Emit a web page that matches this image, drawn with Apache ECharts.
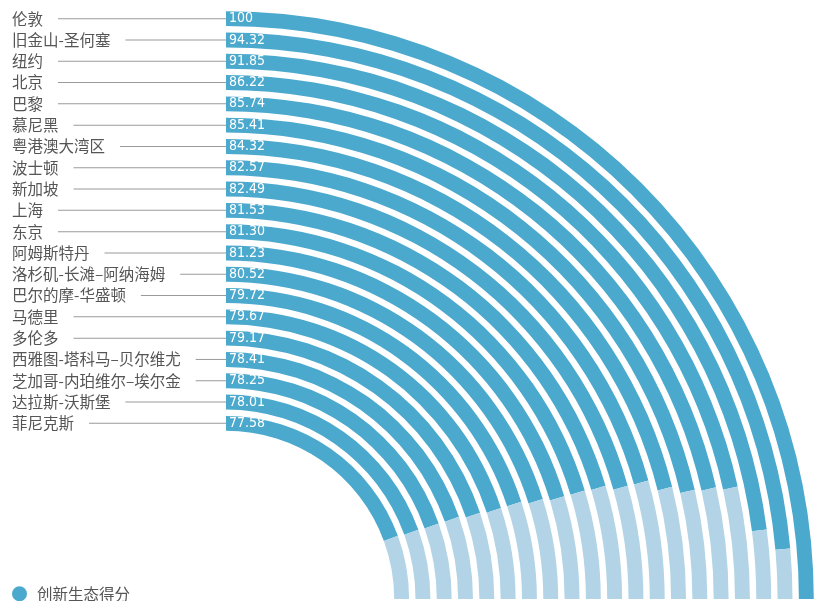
<!DOCTYPE html>
<html>
<head>
<meta charset="utf-8">
<script src="https://cdn.jsdelivr.net/npm/echarts@6/dist/echarts.min.js"></script>
<style>
  html, body { margin: 0; padding: 0; background: #fff; }
  #chart { width: 816px; height: 601px; }
</style>
</head>
<body>
<div id="chart"></div>
<script>
// 城市（从外圈到内圈）
const cities = [
  '伦敦', '旧金山-圣何塞', '纽约', '北京', '巴黎', '慕尼黑', '粤港澳大湾区',
  '波士顿', '新加坡', '上海', '东京', '阿姆斯特丹', '洛杉矶-长滩–阿纳海姆',
  '巴尔的摩-华盛顿', '马德里', '多伦多', '西雅图-塔科马–贝尔维尤',
  '芝加哥-内珀维尔–埃尔金', '达拉斯-沃斯堡', '菲尼克斯'
];
const scores = [
  100, 94.32, 91.85, 86.22, 85.74, 85.41, 84.32,
  82.57, 82.49, 81.53, 81.30, 81.23, 80.52,
  79.72, 79.67, 79.17, 78.41,
  78.25, 78.01, 77.58
];
const maxScore = 100;
const seriesName = '创新生态得分';

const darkBlue = '#4ba9ce';
const lightBlue = '#b3d4e6';
const cjkFont = '"Noto Sans CJK SC", "Noto Sans", sans-serif';
const nameSize = 15.5;
const labelMargin = 214; // 文字起点到轴线的距离
const lineGap = 15;

// 量文字宽度，用来算引导线长度
const ctx = document.createElement('canvas').getContext('2d');
ctx.font = nameSize + 'px ' + cjkFont;
function textWidth(s) {
  return ctx.measureText(s).width;
}

const nameRich = {
  t: { fontFamily: cjkFont, fontSize: nameSize, color: '#555' },
  g: { width: lineGap, height: 1 }
};
cities.forEach(function (c, i) {
  nameRich['l' + i] = {
    width: Math.max(0, labelMargin - textWidth(c) - lineGap),
    height: 1,
    backgroundColor: '#9a9a9a'
  };
});

const chart = echarts.init(document.getElementById('chart'));

chart.setOption({
  animation: false,
  legend: {
    data: [seriesName],
    left: 7,
    top: 581,
    icon: 'circle',
    itemWidth: 25,
    itemHeight: 15,
    textStyle: { fontFamily: cjkFont, fontSize: 15.5, color: '#555' }
  },
  polar: {
    center: [226, 599],
    radius: [165, 591]
  },
  angleAxis: {
    type: 'value',
    min: 0,
    max: maxScore,
    startAngle: 90,
    endAngle: 0,
    clockwise: true,
    axisLine: { show: false },
    axisTick: { show: false },
    axisLabel: { show: false },
    splitLine: { show: false }
  },
  radiusAxis: {
    type: 'category',
    data: cities,
    inverse: true,
    z: 10,
    axisLine: { show: false },
    axisTick: { show: false },
    splitLine: { show: false },
    axisLabel: {
      interval: 0,
      margin: labelMargin,
      align: 'left',
      formatter: function (name) {
        return '{t|' + name + '}{g|}{l' + cities.indexOf(name) + '|}';
      },
      rich: nameRich
    }
  },
  series: [
    {
      name: seriesName,
      type: 'bar',
      coordinateSystem: 'polar',
      stack: 'ring',
      data: scores,
      barWidth: '70%',
      itemStyle: { color: darkBlue },
      label: {
        show: true,
        position: 'insideStart',
        rotate: 0,
        distance: 3,
        color: '#fff',
        fontFamily: '"Liberation Sans Narrow", "DejaVu Sans Condensed", sans-serif',
        fontSize: 14,
        formatter: function (p) {
          return Number.isInteger(p.value) ? String(p.value) : p.value.toFixed(2);
        }
      }
    },
    {
      // 浅色剩余部分，补满到 100
      name: 'rest',
      type: 'bar',
      coordinateSystem: 'polar',
      stack: 'ring',
      data: scores.map(function (v) { return +(maxScore - v).toFixed(2); }),
      barWidth: '70%',
      silent: true,
      itemStyle: { color: lightBlue }
    }
  ]
});
</script>
</body>
</html>
